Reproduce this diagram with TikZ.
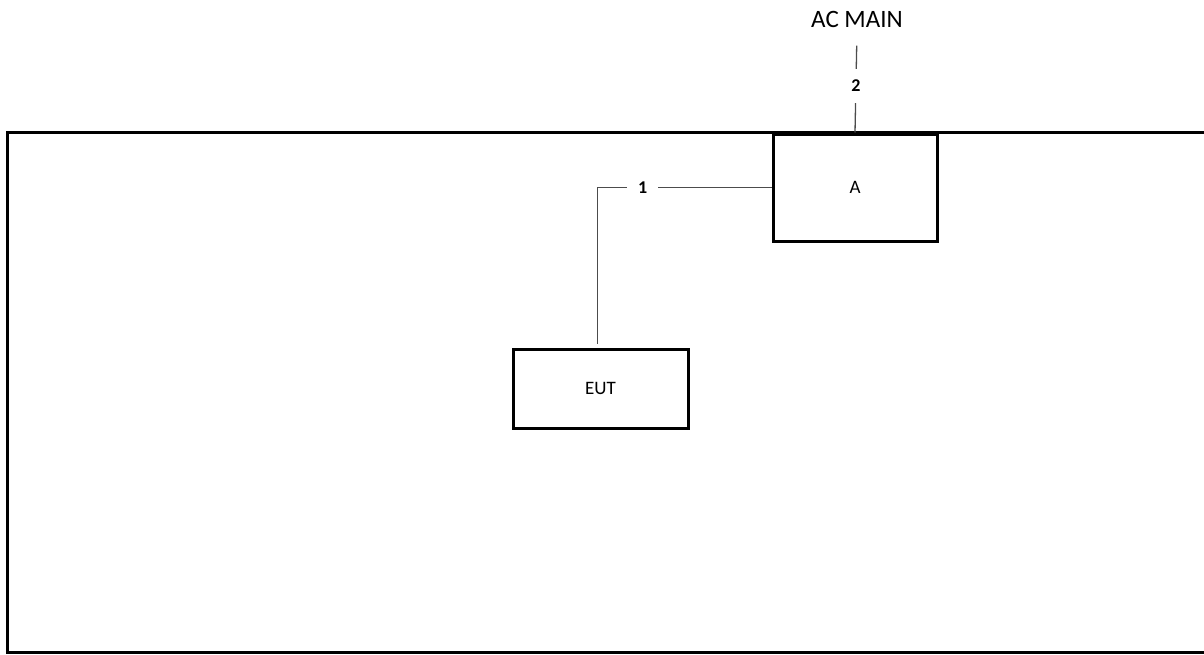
\documentclass[tikz,border=0pt]{standalone}
\usepackage{fontspec}
\setmainfont{Carlito}
\usepackage{tikz}
\usetikzlibrary{arrows.meta}

\tikzset{
  unit/.style={shape=rectangle,draw=black,line width=3pt,font=\fontsize{19}{23}\selectfont},
  cable/.style={draw=black!70,line width=1.3pt},
  cablelabel/.style={fill=white,inner sep=11pt,font=\fontsize{18}{22}\selectfont\bfseries}
}

\begin{document}
\begin{tikzpicture}[x=1pt,y=-1pt]
                \useasboundingbox (0,0) rectangle (1204,654);
                \draw[line width=3pt] (1220,132) -- (7,132) -- (7,652) -- (1220,652);

                \node[unit,minimum width=164pt,minimum height=107pt] (A) at (855,187.5) {A};
                \node[unit,minimum width=175pt,minimum height=79pt] (EUT) at (600.5,388.5) {EUT};
                \node[anchor=base,font=\fontsize{25}{30}\selectfont] (M) at (857,27) {AC MAIN};

                \draw [cable](A.west) -| node[cablelabel,pos=0.37] {1} ([xshift=-3pt,yshift=4pt]EUT.north);
                \draw [cable,shorten >=15pt](A.north) -- node[cablelabel,pos=0.46] {2} (M.south);
            \end{tikzpicture}
\end{document}
